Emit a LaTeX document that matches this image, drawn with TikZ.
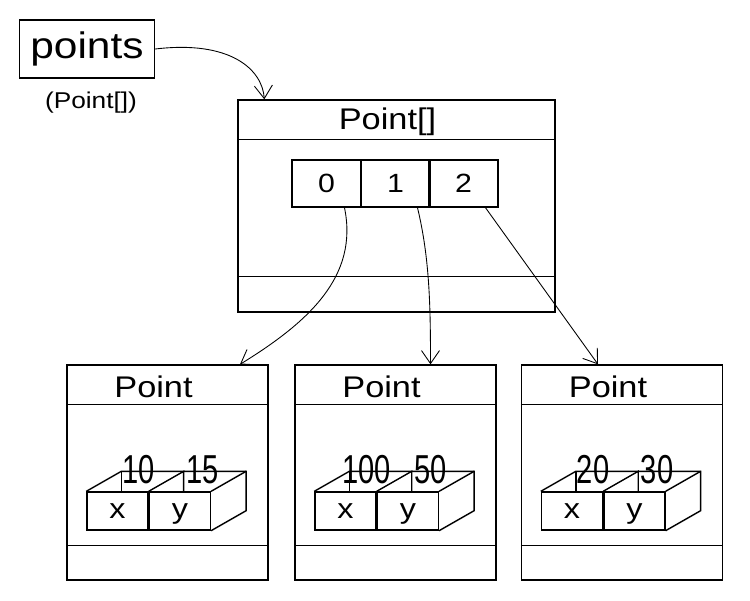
\documentclass[tikz,border=0pt]{standalone}
\usepackage{fontspec}
\setmainfont[FakeStretch=1.15]{Liberation Sans}
\newfontfamily\valfont[FakeStretch=0.72]{Liberation Sans}
\usetikzlibrary{arrows.meta,calc}

\tikzset{
  objbox/.style={draw,line width=.8pt,inner sep=0pt},
  cellbox/.style={draw,line width=.8pt,inner sep=0pt,minimum width=1.38cm,minimum height=.94cm,font=\fontsize{15}{15}\selectfont},
  fieldbox/.style={draw,line width=.8pt,inner sep=0pt,minimum width=1.22cm,minimum height=.76cm,
    text height=8.3pt,text depth=0pt,font=\fontsize{16}{16}\selectfont},
  title/.style={font=\fontsize{17}{17}\selectfont},
  value/.style={font=\valfont\fontsize{23}{23}\selectfont,inner sep=0pt},
  ref/.style={line width=.5pt,-{Straight Barb[length=2.6mm,width=3.6mm]}},
}

\begin{document}
\begin{tikzpicture}[x=.02cm,y=-.02cm]
  \path[use as bounding box] (0,0) rectangle (750,600);

  % the variable and its type
  \node[objbox,minimum width=2.7cm,minimum height=1.16cm,font=\fontsize{21}{21}\selectfont] (points) at (87,49) {points};
  \node[font=\fontsize{13}{13}\selectfont] (ptype) at (91,103) {(Point[])};

  % the array object
  \node[objbox,minimum width=6.34cm,minimum height=4.24cm] (arr) at (396.5,206) {};
  \draw[line width=.8pt] ($(arr.north west)+(0,40)$) -- ($(arr.north east)+(0,40)$);
  \draw[line width=.8pt] ($(arr.south west)+(0,-36)$) -- ($(arr.south east)+(0,-36)$);
  \node[title] (arrtitle) at ($(arr.north)+(-9,22)$) {Point[]};
  \foreach \i/\cx in {0/326.5,1/395.5,2/463.5}
    \node[cellbox] (c\i) at (\cx,183.5) {\i};

  % the three Point objects
  \foreach \n/\cx/\vx/\vy in {1/167.5/10/15,2/395.5/100/50,3/622/20/30}{
    \node[objbox,minimum width=4.02cm,minimum height=4.3cm] (pt\n) at (\cx,472.5) {};
    \draw[line width=.8pt] ($(pt\n.north west)+(0,40)$) -- ($(pt\n.north east)+(0,40)$);
    \draw[line width=.8pt] ($(pt\n.south west)+(0,-35)$) -- ($(pt\n.south east)+(0,-35)$);
    \node[title] (ptt\n) at ($(pt\n.north)+(-14,22)$) {Point};
    \node[fieldbox] (fx\n) at (\cx-50,511) {x};
    \node[fieldbox,anchor=west] (fy\n) at (fx\n.east) {y};
    % open box drawn in perspective
    \draw[line width=.8pt] (fx\n.north west) -- ++(35,-20) -- ($(fy\n.north east)+(35,-20)$)
      -- ($(fy\n.south east)+(35,-20)$) -- (fy\n.south east);
    \draw[line width=.8pt] (fy\n.north west) -- ++(35,-20) -- ++(0,20);
    \draw[line width=.8pt] (fy\n.north east) -- ++(35,-20);
    \draw[line width=.8pt] ($(fx\n.north west)+(35,-20)$) -- ++(0,20);
    \node[value] (vx\n) at (\cx-29,470) {\vx};
    \node[value] (vy\n) at (\cx+35,470) {\vy};
  }

  % references
  \draw[ref] (points.east) .. controls +(75,-9) and +(-2,-30) .. ($(arr.north west)+(27,0)$);
  \draw[ref] ($(c0.south)+(18,0)$) .. controls +(14,68) and +(70,-43) .. ($(pt1.north)+(72.5,0)$);
  \draw[ref] ($(c1.south)+(22,0)$) .. controls +(12,50) and +(0,-60) .. ($(pt2.north)+(35,0)$);
  \draw[ref] ($(c2.south)+(22,0)$) -- ($(pt3.north)+(-24,0)$);
\end{tikzpicture}
\end{document}
